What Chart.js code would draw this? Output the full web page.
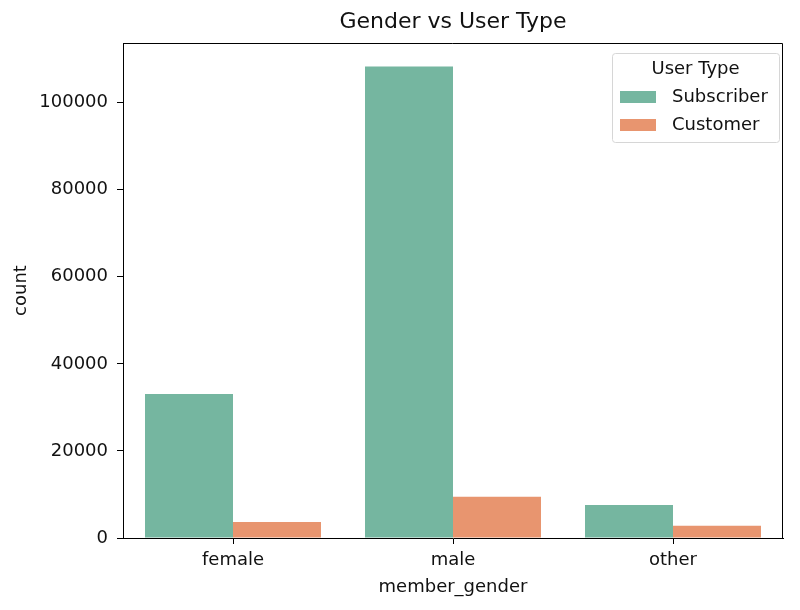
<!DOCTYPE html>
<html>
<head>
<meta charset="utf-8">
<script src="https://cdn.jsdelivr.net/npm/chart.js@4.4.1/dist/chart.umd.min.js"></script>
<style>
  html, body { margin: 0; padding: 0; background: #fff; }
  #wrap { width: 800px; height: 610px; }
</style>
</head>
<body>
<div id="wrap"><canvas id="myChart"></canvas></div>
<script>
// data
const genders = ["female", "male", "other"]
const subscriberCounts = [33100, 108300, 7600]
const customerCounts = [3700, 9500, 2800]
const userTypes = ["Subscriber", "Customer"]
const yTicks = [0, 20000, 40000, 60000, 80000, 100000]
const chartTitle = "Gender vs User Type"

const subColor = "#75b6a0"
const custColor = "#e8956f"
const textColor = "#111"
const font = "'DejaVu Sans', sans-serif"

// top + right spines, and the title centred over the axes like matplotlib
const framePlugin = {
  id: "frame",
  afterDraw(chart) {
    const { ctx, chartArea: a } = chart
    ctx.save()
    ctx.strokeStyle = "#000"
    ctx.lineWidth = 1
    ctx.beginPath()
    ctx.moveTo(a.left, a.top + 0.5)
    ctx.lineTo(a.right - 0.5, a.top + 0.5)
    ctx.lineTo(a.right - 0.5, a.bottom)
    ctx.stroke()

    ctx.fillStyle = textColor
    ctx.font = "22px " + font
    ctx.textAlign = "center"
    ctx.textBaseline = "middle"
    ctx.fillText(chartTitle, (a.left + a.right) / 2, 22)
    ctx.restore()
  },
}

// matplotlib-style legend inside the axes
const boxLegend = {
  id: "boxLegend",
  afterDraw(chart) {
    const { ctx, chartArea: a } = chart
    const w = 167, h = 89
    const x = a.right - 4 - w, y = a.top + 10
    ctx.save()
    ctx.fillStyle = "rgba(255,255,255,0.8)"
    ctx.strokeStyle = "#d6d6d6"
    ctx.lineWidth = 1
    ctx.beginPath()
    ctx.roundRect(x + 0.5, y + 0.5, w, h, 3)
    ctx.fill()
    ctx.stroke()
    ctx.fillStyle = textColor
    ctx.font = "18px " + font
    ctx.textAlign = "center"
    ctx.textBaseline = "middle"
    ctx.fillText("User Type", x + w / 2, y + 16)
    ctx.textAlign = "left"
    chart.data.datasets.forEach((ds, i) => {
      const cy = y + 44 + i * 28
      ctx.fillStyle = ds.backgroundColor
      ctx.fillRect(x + 8, cy - 6, 36, 12)
      ctx.fillStyle = textColor
      ctx.fillText(ds.label, x + 60, cy)
    })
    ctx.restore()
  },
}

const ctx = document.getElementById("myChart").getContext("2d")
const myChart = new Chart(ctx, {
  type: "bar",
  data: {
    labels: genders,
    datasets: [
      { label: userTypes[0], data: subscriberCounts, backgroundColor: subColor },
      { label: userTypes[1], data: customerCounts, backgroundColor: custColor },
    ],
  },
  options: {
    responsive: true,
    maintainAspectRatio: false,
    animation: false,
    layout: { padding: { left: 0, right: 17, top: 43, bottom: 0 } },
    datasets: { bar: { categoryPercentage: 0.8, barPercentage: 1.0 } },
    plugins: {
      legend: { display: false },
      tooltip: { enabled: false },
      title: { display: false },
    },
    scales: {
      x: {
        offset: true,
        grid: { display: true, offset: false, drawOnChartArea: false, tickLength: 6, tickColor: "#000" },
        border: { display: true, color: "#000" },
        ticks: { color: textColor, font: { family: font, size: 18 }, padding: 6 },
        title: {
          display: true,
          text: "member_gender",
          color: textColor,
          font: { family: font, size: 18 },
          padding: { top: 0, bottom: 12 },
        },
        afterFit(scale) { scale.height = 72 },
      },
      y: {
        min: 0,
        max: 113700,
        afterBuildTicks(scale) { scale.ticks = yTicks.map((v) => ({ value: v })) },
        grid: { display: true, drawOnChartArea: false, tickLength: 6, tickColor: "#000" },
        border: { display: true, color: "#000" },
        ticks: {
          color: textColor,
          font: { family: font, size: 18 },
          padding: 9,
          callback: (v) => String(v),
        },
        title: {
          display: true,
          text: "count",
          color: textColor,
          font: { family: font, size: 18 },
          padding: { top: 11, bottom: 0 },
        },
        afterFit(scale) { scale.width = 123 },
      },
    },
  },
  plugins: [framePlugin, boxLegend],
})
</script>
</body>
</html>
